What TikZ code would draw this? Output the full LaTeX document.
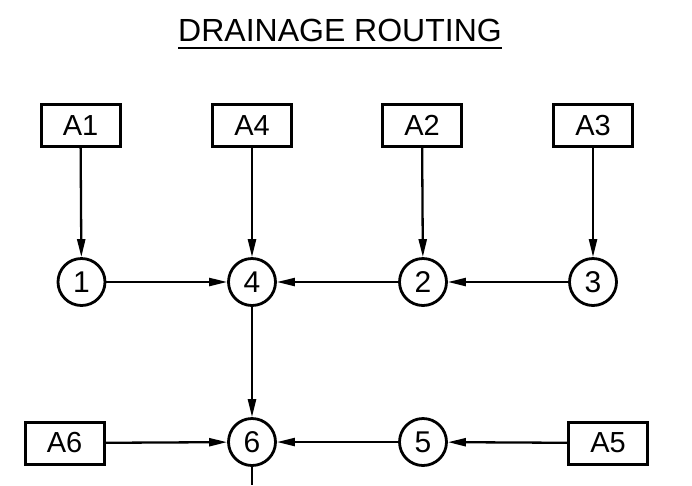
\documentclass[tikz,border=0pt]{standalone}
\usepackage{fontspec}
\setmainfont{Liberation Sans}
\usetikzlibrary{arrows.meta}
\begin{document}
\begin{tikzpicture}[x=1pt,y=-1pt,
  area/.style={draw,line width=3pt,minimum width=79pt,minimum height=42pt,
    inner sep=0pt,font=\fontsize{29}{29}\selectfont},
  junction/.style={draw,circle,line width=2.8pt,minimum size=47pt,
    inner sep=0pt,font=\fontsize{30}{30}\selectfont},
  flow/.style={line width=2.3pt,-{Triangle[length=18pt,width=8pt]}},
  pipe/.style={line width=2.3pt}]
\useasboundingbox (0,0) rectangle (692,485);

% title
\node[anchor=base,inner sep=0pt,font=\fontsize{32}{32}\selectfont] (title) at (340,41) {DRAINAGE ROUTING};
\draw[line width=2.6pt] (title.base west) ++(0,7) -- ([yshift=-7pt]title.base east);

% catchment areas
\node[area] (a1) at (80.5,125.5) {A1};
\node[area] (a4) at (252,125.5) {A4};
\node[area] (a2) at (422,125.5) {A2};
\node[area] (a3) at (593,125.5) {A3};
\node[area] (a6) at (64.5,443) {A6};
\node[area] (a5) at (608,443) {A5};

% junctions
\node[junction] (j1) at (81.5,282) {1};
\node[junction] (j4) at (252,282) {4};
\node[junction] (j2) at (423,282) {2};
\node[junction] (j3) at (593,282) {3};
\node[junction] (j6) at (252,442) {6};
\node[junction] (j5) at (423,442) {5};
\coordinate (outlet) at (252,485);

% flows
\draw[flow] (a1) -- (j1);
\draw[flow] (a4) -- (j4);
\draw[flow] (a2) -- (j2);
\draw[flow] (a3) -- (j3);
\draw[flow] (j1) -- (j4);
\draw[flow] (j2) -- (j4);
\draw[flow] (j3) -- (j2);
\draw[flow] (j4) -- (j6);
\draw[flow] (a6) -- (j6);
\draw[flow] (j5) -- (j6);
\draw[flow] (a5) -- (j5);
\draw[pipe] (j6) -- (outlet);
\end{tikzpicture}
\end{document}
